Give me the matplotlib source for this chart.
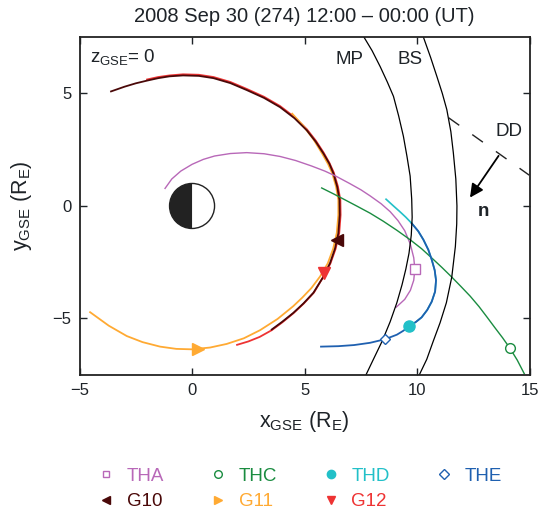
import numpy as np
import matplotlib
matplotlib.use('Agg')
import matplotlib.pyplot as plt
from matplotlib.patches import Wedge, Circle
from matplotlib.lines import Line2D

plt.rcParams['font.family'] = ['Liberation Sans', 'DejaVu Sans']
plt.rcParams['font.size'] = 13.5
plt.rcParams['mathtext.default'] = 'regular'

# --- datos (R_E, GSE) ---
tha_x = [-1.2, -0.9, -0.5, 0.0, 0.5, 1.0, 1.7, 2.43, 3.2, 3.91, 4.6, 5.3, 5.9, 6.4, 7.0, 7.5, 7.91, 8.4,
         8.8, 9.15, 9.45, 9.7, 9.85, 9.9, 9.85, 9.7, 9.45, 9.07]
tha_y = [0.78, 1.2, 1.55, 1.85, 2.07, 2.22, 2.33, 2.37, 2.32, 2.2, 2.02, 1.78, 1.55, 1.32, 1.0, 0.72, 0.45,
         0.1, -0.25, -0.65, -1.1, -1.7, -2.3, -2.8, -3.3, -3.75, -4.15, -4.5]
thc_x = [5.76, 6.3, 6.8, 7.35, 7.91, 8.5, 9.1, 9.69, 10.2, 10.65, 11.1, 11.54, 11.95, 12.36, 12.75, 13.1,
         13.45, 13.8, 14.13, 14.45, 14.76]
thc_y = [0.8, 0.53, 0.27, -0.02, -0.32, -0.68, -1.08, -1.5, -1.9, -2.31, -2.73, -3.16, -3.58, -4.01,
         -4.47, -4.93, -5.4, -5.86, -6.33, -6.85, -7.45]
thd_x = [8.62, 8.95, 9.22, 9.5, 9.76, 10.05, 10.28, 10.5, 10.65, 10.78, 10.84, 10.8, 10.65, 10.45, 10.2,
         9.95, 9.66]
thd_y = [0.3, 0.0, -0.24, -0.5, -0.77, -1.12, -1.5, -1.95, -2.39, -2.85, -3.3, -3.8, -4.25, -4.62, -4.95,
         -5.15, -5.34]
the_x = [9.76, 10.05, 10.28, 10.5, 10.65, 10.78, 10.84, 10.8, 10.65, 10.45, 10.2, 9.95, 9.66, 9.38, 9.1,
         8.58, 7.91, 7.2, 6.5, 5.73]
the_y = [-0.77, -1.12, -1.5, -1.95, -2.39, -2.85, -3.3, -3.8, -4.25, -4.62, -4.95, -5.15, -5.34, -5.55,
         -5.72, -5.92, -6.08, -6.18, -6.23, -6.25]

g10_x = [-3.6, -3.0, -2.5, -2.0, -1.5, -1.0, -0.4, 0.3, 0.95, 1.7, 2.43, 3.2, 3.91, 4.55, 5.1, 5.5, 5.84,
         6.1, 6.28, 6.45, 6.55, 6.56, 6.5, 6.35, 6.13, 5.8, 5.39, 4.95, 4.5, 4.0, 3.54]
g10_y = [5.09, 5.3, 5.45, 5.57, 5.68, 5.76, 5.8, 5.78, 5.68, 5.46, 5.15, 4.8, 4.39, 3.9, 3.36, 2.85, 2.33,
         1.88, 1.45, 0.85, 0.27, -0.4, -1.21, -1.9, -2.54, -3.2, -3.86, -4.33, -4.75, -5.15, -5.49]
g11_x = [4.45, 4.95, 5.4, 5.78, 6.05, 6.23, 6.4, 6.5, 6.5, 6.43, 6.27, 6.03, 5.69, 5.3, 4.9, 4.5, 3.8,
         3.02, 2.3, 1.54, 0.8, 0.0, -0.7, -1.42, -2.2, -2.9, -3.7, -4.53]
g11_y = [4.1, 3.55, 2.95, 2.33, 1.85, 1.45, 0.85, 0.27, -0.4, -1.2, -1.9, -2.55, -3.13, -3.65, -4.07,
         -4.45, -5.02, -5.52, -5.88, -6.13, -6.29, -6.37, -6.35, -6.25, -6.05, -5.78, -5.32, -4.72]
g12_x = [-2.0, -1.5, -1.0, -0.4, 0.3, 0.95, 1.7, 2.43, 3.2, 3.91, 4.55, 5.1, 5.5, 5.84, 6.1, 6.3, 6.48,
         6.59, 6.6, 6.54, 6.38, 6.15, 5.86, 5.42, 4.97, 4.5, 4.0, 3.54, 3.0, 2.5, 2.0]
g12_y = [5.62, 5.73, 5.8, 5.85, 5.83, 5.73, 5.51, 5.2, 4.85, 4.44, 3.95, 3.41, 2.9, 2.38, 1.92, 1.48,
         0.87, 0.27, -0.4, -1.2, -1.9, -2.55, -3.1, -3.84, -4.33, -4.77, -5.18, -5.52, -5.82, -6.02, -6.17]

# posiciones de los satelites (marcadores)
tha_pos = (9.9, -2.8)
thc_pos = (14.13, -6.33)
thd_pos = (9.66, -5.34)
the_pos = (8.58, -5.92)
g10_pos = (6.42, -1.52)
g11_pos = (0.27, -6.37)
g12_pos = (5.88, -3.0)

# magnetopausa (MP) y choque de proa (BS)
mp_x = [7.64, 8.0, 8.36, 8.68, 8.95, 9.18, 9.39, 9.55, 9.69, 9.76, 9.78, 9.74, 9.64, 9.5, 9.33, 9.1, 8.8,
        8.45, 8.06, 7.73]
mp_y = [7.5, 6.9, 6.19, 5.5, 4.87, 4.0, 3.1, 2.2, 1.33, 0.3, -0.5, -1.3, -2.1, -2.8, -3.5, -4.3, -5.15,
        -6.0, -6.81, -7.5]
bs_x = [10.28, 10.6, 10.88, 11.12, 11.32, 11.5, 11.61, 11.72, 11.77, 11.76, 11.7, 11.54, 11.3, 11.02,
        10.72, 10.43, 10.1]
bs_y = [7.5, 6.6, 5.75, 5.0, 4.28, 3.3, 2.36, 1.2, 0.0, -0.8, -1.8, -3.16, -4.3, -5.19, -6.0, -6.81, -7.5]

# discontinuidad (DD) y normal n
dd_x = [11.4, 14.98]
dd_y = [3.92, 1.37]
n_start = (13.69, 2.33)
n_end = (12.28, 0.27)

c_tha = '#b868b8'
c_thc = '#1a8c40'
c_thd = '#22c0c8'
c_the = '#1f60b0'
c_g10 = '#4a0808'
c_g11 = '#ffaa33'
c_g12 = '#ee3333'
txt = '#1e2328'

fig = plt.figure(figsize=(5.41, 5.13), dpi=100)
ax = fig.add_axes([0.147, 0.269, 0.832, 0.659])

# orbitas
ax.plot(g12_x, g12_y, color=c_g12, lw=1.3)
ax.plot(g11_x, g11_y, color=c_g11, lw=1.3)
ax.plot(g10_x, g10_y, color=c_g10, lw=1.3)
ax.plot(tha_x, tha_y, color=c_tha, lw=1.0)
ax.plot(thc_x, thc_y, color=c_thc, lw=1.0)
ax.plot(thd_x, thd_y, color=c_thd, lw=1.2)
ax.plot(the_x, the_y, color=c_the, lw=1.3)
ax.plot(mp_x, mp_y, color='black', lw=0.9)
ax.plot(bs_x, bs_y, color='black', lw=0.9)

# marcadores
ax.plot(*tha_pos, marker='s', ms=6.5, mfc='white', mec=c_tha, mew=1.0)
ax.plot(*thc_pos, marker='o', ms=7, mfc='white', mec=c_thc, mew=1.0)
ax.plot(*thd_pos, marker='o', ms=8, color=c_thd)
ax.plot(*the_pos, marker='D', ms=5.5, mfc='white', mec=c_the, mew=1.0)
ax.plot(*g10_pos, marker='<', ms=8, color=c_g10)
ax.plot(*g11_pos, marker='>', ms=8, color=c_g11)
ax.plot(*g12_pos, marker='v', ms=8, color=c_g12)

# Tierra
ax.add_patch(Wedge((0, 0), 1, 90, 270, facecolor='#222222', edgecolor='none', zorder=3))
ax.add_patch(Circle((0, 0), 1, facecolor='none', edgecolor='#222222', lw=1.0, zorder=4))

# DD y normal
ax.plot(dd_x, dd_y, color='#222222', lw=1.0, linestyle=(0, (9.4, 11.5)))
ax.annotate('', xy=n_end, xytext=n_start,
            arrowprops=dict(arrowstyle='-|>', color='black', lw=1.3, mutation_scale=20))
ax.text(12.93, -0.25, 'n', fontweight='bold', ha='center', va='center', color=txt)
ax.text(14.09, 3.29, 'DD', ha='center', va='center', color=txt)
ax.text(6.98, 6.5, 'MP', ha='center', va='center', color=txt)
ax.text(9.69, 6.5, 'BS', ha='center', va='center', color=txt)
ax.text(0.023, 0.94, r'z$_{GSE}$= 0', transform=ax.transAxes, ha='left', va='center', color=txt)

ax.set_xlim(-5, 15)
ax.set_ylim(-7.5, 7.5)
ax.set_aspect('equal')
ax.set_xticks([-5, 0, 5, 10, 15])
ax.set_yticks([-5, 0, 5])
ax.tick_params(direction='in', top=True, right=True, length=5, width=1, colors=txt, pad=6,
               labelsize=12)
for s in ax.spines.values():
    s.set_linewidth(1.3)
    s.set_color('#222222')
ax.set_xlabel(r'x$_{GSE}$ (R$_E$)', color=txt, labelpad=8, fontsize=15.5)
ax.set_ylabel(r'y$_{GSE}$ (R$_E$)', color=txt, labelpad=13, fontsize=15.5)
ax.set_title('2008 Sep 30 (274) 12:00 – 00:00 (UT)', color=txt, fontsize=14.5, pad=11)

# leyenda
handles = [
    Line2D([], [], ls='none', marker='s', ms=5, mfc='white', mec=c_tha, label='THA'),
    Line2D([], [], ls='none', marker='<', ms=6, color=c_g10, label='G10'),
    Line2D([], [], ls='none', marker='o', ms=5.5, mfc='white', mec=c_thc, label='THC'),
    Line2D([], [], ls='none', marker='>', ms=6, color=c_g11, label='G11'),
    Line2D([], [], ls='none', marker='o', ms=6, color=c_thd, label='THD'),
    Line2D([], [], ls='none', marker='v', ms=6, color=c_g12, label='G12'),
    Line2D([], [], ls='none', marker='D', ms=5, mfc='white', mec=c_the, label='THE'),
]
leg = fig.legend(handles=handles, ncol=4, loc='center', bbox_to_anchor=(0.553, 0.047), frameon=False,
                 handlelength=1.0, handletextpad=0.6, columnspacing=2.37, labelspacing=0.46)
for t, h in zip(leg.get_texts(), handles):
    t.set_color(h.get_markeredgecolor() if h.get_markerfacecolor() == 'white' else h.get_color())

fig.savefig('out.png', dpi=100)
